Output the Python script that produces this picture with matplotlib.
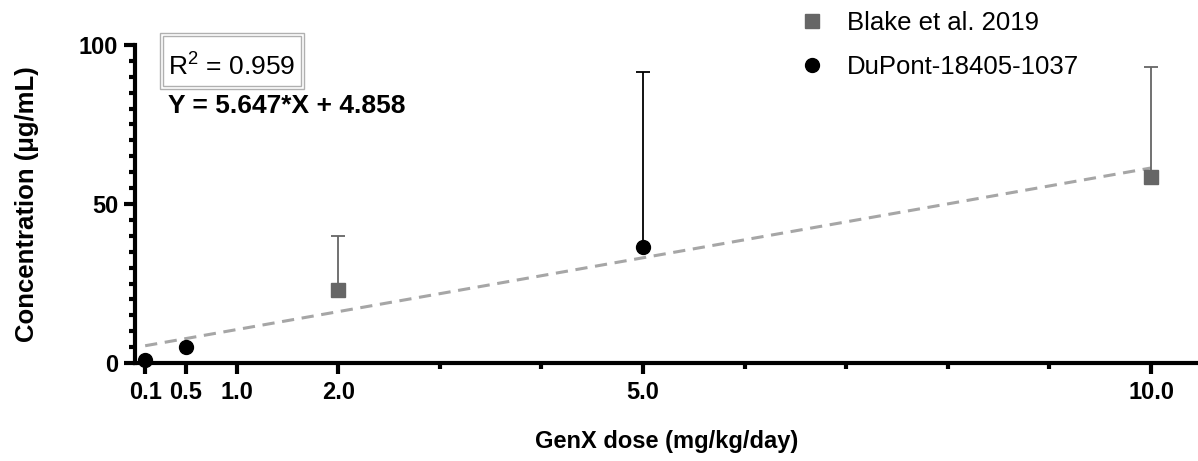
import matplotlib
matplotlib.use('Agg')
import matplotlib.pyplot as plt
from matplotlib.patches import Rectangle
from matplotlib.ticker import FixedLocator
import numpy as np

plt.rcParams['font.family'] = ['Liberation Sans', 'DejaVu Sans']
plt.rcParams['mathtext.fontset'] = 'custom'
plt.rcParams['mathtext.rm'] = 'Liberation Sans'

# data
blake_x = [2.0, 10.0]
blake_y = [23.0, 58.5]
blake_top = [40.0, 93.0]
dupont_x = [0.1, 0.5, 5.0]
dupont_y = [1.0, 5.0, 36.5]
dupont_top = [1.0, 5.0, 91.5]
slope = 5.647
intercept = 4.858
fit_x = [0.1, 10.0]
x_major = [0.1, 0.5, 1.0, 2.0, 5.0, 10.0]
x_minor = [3, 4, 6, 7, 8, 9]
x_labels = ['0.1', '0.5', '1.0', '2.0', '5.0', '10.0']

W, H = 1198, 461
fig = plt.figure(figsize=(W / 100, H / 100), dpi=100)
ax = fig.add_axes([135 / W, 1 - 363 / H, (W - 135) / W, 318 / H])

gray = '#666666'

# fit line
fx = np.array(fit_x)
ax.plot(fx, slope * fx + intercept, color='#a6a6a6', lw=2.2, dashes=(4, 2.5), zorder=2)

# error bars (upper only)
ax.errorbar(blake_x, blake_y, yerr=[np.zeros(2), np.array(blake_top) - np.array(blake_y)],
            fmt='none', ecolor=gray, elinewidth=1.3, capsize=5, capthick=1.3, zorder=3, clip_on=False)
dup_err = np.array(dupont_top) - np.array(dupont_y)
ax.errorbar(dupont_x, dupont_y, yerr=[np.zeros(3), dup_err],
            fmt='none', ecolor='black', elinewidth=1.3, capsize=5, capthick=1.3, zorder=3, clip_on=False)

ax.plot(blake_x, blake_y, 's', color=gray, ms=10, ls='none', label='Blake et al. 2019', zorder=4, clip_on=False)
ax.plot(dupont_x, dupont_y, 'o', color='black', ms=10, ls='none', label='DuPont-18405-1037', zorder=4, clip_on=False)

ax.set_xlim(0, (W - 135) / 101.6)
ax.set_ylim(0, 100)

for s in ['top', 'right']:
    ax.spines[s].set_visible(False)
for s in ['left', 'bottom']:
    ax.spines[s].set_linewidth(3)

ax.xaxis.set_major_locator(FixedLocator(x_major))
ax.set_xticklabels(x_labels)
ax.xaxis.set_minor_locator(FixedLocator(x_minor))
ax.set_yticks([0, 50, 100])
ax.yaxis.set_minor_locator(FixedLocator(np.arange(5, 100, 5)))
ax.tick_params(axis='both', which='major', length=8, width=3, labelsize=17, pad=4)
ax.tick_params(axis='x', which='major', pad=5)
ax.tick_params(axis='both', which='minor', length=4.5, width=3)
for lab in ax.get_xticklabels() + ax.get_yticklabels():
    lab.set_fontweight('bold')

ax.set_xlabel('GenX dose (mg/kg/day)', fontsize=17, fontweight='bold', labelpad=19)
ax.set_ylabel('Concentration (μg/mL)', fontsize=18.5, fontweight='bold', labelpad=29)

# R^2 box with double border
for (x0, y0, x1, y1) in [(160, 33, 304, 89), (163, 36, 301, 86)]:
    fig.add_artist(Rectangle((x0 / W, 1 - y1 / H), (x1 - x0) / W, (y1 - y0) / H,
                             transform=fig.transFigure, fill=False, ec='#b0b0b0', lw=1))
fig.text(168 / W, 1 - 75 / H, r'R$^{2}$ = 0.959', fontsize=19, va='baseline', ha='left')
fig.text(168 / W, 1 - 113 / H, 'Y = 5.647*X + 4.858', fontsize=19, va='baseline', ha='left',
         fontweight='bold')

ax.legend(loc='center left', bbox_to_anchor=(797 / W, 1 - 45 / H), bbox_transform=fig.transFigure,
          frameon=False, fontsize=18.5, handletextpad=0.8, labelspacing=0.75, handlelength=1.15,
          borderaxespad=0, borderpad=0)

fig.savefig('out.png', dpi=100)
